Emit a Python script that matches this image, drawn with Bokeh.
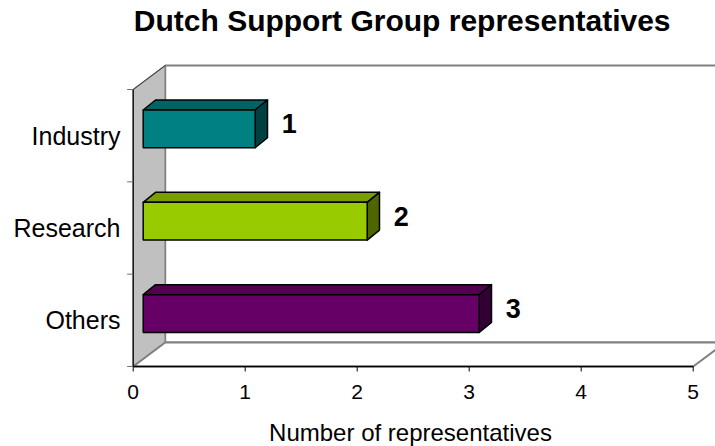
from bokeh.plotting import figure
from bokeh.models import Range1d, ColumnDataSource, Label
from bokeh.core.properties import value
from bokeh.embed import file_html
from bokeh.resources import INLINE

# ---- data ----
categories = ["Industry", "Research", "Others"]
counts = [1, 2, 3]
x_ticks = [0, 1, 2, 3, 4, 5]
x_tick_labels = ["0", "1", "2", "3", "4", "5"]
title_text = "Dutch Support Group representatives"
x_title = "Number of representatives"

# ---- styles ----
front_colors = ["#008080", "#99CC00", "#660066"]
top_colors = ["#006464", "#7A9E00", "#520052"]
side_colors = ["#004040", "#4D6600", "#330033"]
FONT = "Liberation Sans"

PX_X = 112.0      # pixels per x unit
PX_Y = 92.33      # pixels per category band
W, H = 715, 446

# depth offsets (in data units)
WALL_DX, WALL_DY = 32 / PX_X, 24 / PX_Y
BAR_SX, BAR_SY = 10 / PX_X, 6.8 / PX_Y
BAR_DX, BAR_DY = 12.3 / PX_X, 10 / PX_Y
BAR_HALF = 18.9 / PX_Y

x0_px = 132.7
y0_px_from_bottom = H - 366
xr = Range1d(-x0_px / PX_X, (W - x0_px) / PX_X)
yr = Range1d(-y0_px_from_bottom / PX_Y, (H - y0_px_from_bottom) / PX_Y)

p = figure(width=W, height=H, x_range=xr, y_range=yr, output_backend="svg",
           toolbar_location=None, x_axis_location=None, y_axis_location=None,
           min_border=0, outline_line_color=None)
p.grid.visible = False
p.background_fill_color = "white"
p.border_fill_color = "white"

n = len(categories)
xmax = max(x_ticks)

# ---- walls ----
p.quad(left=[WALL_DX], right=[xmax + WALL_DX], bottom=[WALL_DY], top=[n + WALL_DY],
       fill_color="white", line_color="#808080", line_width=2)
p.patch([0, 0, WALL_DX, WALL_DX], [0, n, n + WALL_DY, WALL_DY],
        fill_color="#C0C0C0", line_color="#808080", line_width=1.5)
p.patch([0, xmax, xmax + WALL_DX, WALL_DX], [0, 0, WALL_DY, WALL_DY],
        fill_color="white", line_color="#808080", line_width=2)
p.line([0, WALL_DX], [n, n + WALL_DY], line_color="#404040", line_width=1)

# ---- axes ----
p.line([0, xmax], [0, 0], line_color="black", line_width=1.5)
p.line([0, 0], [0, n], line_color="black", line_width=1.2)
tick_len_y = 5 / PX_Y
p.segment(x0=x_ticks, y0=[0] * len(x_ticks), x1=x_ticks, y1=[-tick_len_y] * len(x_ticks),
          line_color="black", line_width=1)
tick_len_x = 6 / PX_X
band_edges = list(range(n + 1))
p.segment(x0=[0] * len(band_edges), y0=band_edges, x1=[-tick_len_x] * len(band_edges),
          y1=band_edges, line_color="#707070", line_width=1)

p.text(x=x_ticks, y=[0] * len(x_ticks), text=x_tick_labels, text_align="center",
       text_baseline="middle", y_offset=25, text_font=value(FONT),
       text_font_size="21px", text_color="black")

ycent = [n - 1 - i + 0.5 for i in range(n)]
p.text(x=[0] * n, y=ycent, text=categories, text_align="right", text_baseline="middle",
       x_offset=-12.7, y_offset=0, text_font=value(FONT), text_font_size="25px",
       text_color="black")

# ---- 3D bars ----
fl = [BAR_SX] * n
fr = [BAR_SX + v for v in counts]
fb = [c + BAR_SY - BAR_HALF for c in ycent]
ft = [c + BAR_SY + BAR_HALF for c in ycent]
src = ColumnDataSource(dict(
    left=fl, right=fr, bottom=fb, top=ft, color=front_colors,
    top_xs=[[l, r, r + BAR_DX, l + BAR_DX] for l, r in zip(fl, fr)],
    top_ys=[[t, t, t + BAR_DY, t + BAR_DY] for t in ft],
    side_xs=[[r, r, r + BAR_DX, r + BAR_DX] for r in fr],
    side_ys=[[b, t, t + BAR_DY, b + BAR_DY] for b, t in zip(fb, ft)],
    tcolor=top_colors, scolor=side_colors,
))
p.patches(xs="top_xs", ys="top_ys", fill_color="tcolor", line_color="black",
          line_width=1.5, line_join="round", source=src)
p.patches(xs="side_xs", ys="side_ys", fill_color="scolor", line_color="black",
          line_width=1.5, line_join="round", source=src)
p.quad(left="left", right="right", bottom="bottom", top="top", fill_color="color",
       line_color="black", line_width=1.5, source=src)

p.text(x=counts, y=ycent, text=[str(v) for v in counts], text_align="center",
       text_baseline="middle", x_offset=44, y_offset=-12, text_font=value(FONT),
       text_font_size="27px", text_font_style="bold", text_color="black")

# ---- titles ----
p.add_layout(Label(x=133.3, y=H - 20, x_units="screen", y_units="screen",
                   text=title_text, text_align="left", text_baseline="alphabetic",
                   text_font=FONT, text_font_size="30px", text_font_style="bold",
                   text_color="black"))
p.add_layout(Label(x=410, y=14.5, x_units="screen", y_units="screen",
                   text=x_title, text_align="center", text_baseline="alphabetic",
                   text_font=FONT, text_font_size="24px", text_color="black"))

open("out.html", "w").write(file_html(p, INLINE))
